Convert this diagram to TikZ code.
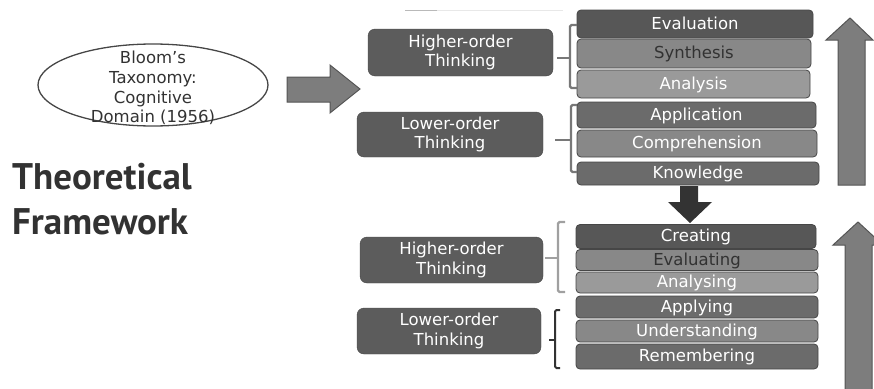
\documentclass[tikz,border=0pt]{standalone}
\usepackage{fontspec}
\setmainfont{DejaVu Sans}
\newfontfamily\titlefont{PT Sans}
\usepackage{xcolor}
\usepackage{tikz}
\usetikzlibrary{arrows.meta, positioning, shapes.geometric, calc}

\definecolor{tier_dark}{RGB}{87, 87, 87}
\definecolor{tier_mid}{RGB}{107, 107, 107}
\definecolor{tier_grey}{RGB}{136, 136, 136}
\definecolor{tier_light}{RGB}{154, 154, 154}
\definecolor{tier_edge}{RGB}{70, 70, 70}
\definecolor{tier_ink}{RGB}{50, 50, 50}
\definecolor{think_fill}{RGB}{92, 92, 92}
\definecolor{arrow_fill}{RGB}{125, 125, 125}
\definecolor{arrow_edge}{RGB}{85, 85, 85}
\definecolor{brace_mid}{RGB}{120, 120, 120}
\definecolor{brace_light}{RGB}{160, 160, 160}
\definecolor{brace_dark}{RGB}{50, 50, 50}

\tikzset{
  tier/.style={draw=tier_edge, line width=0.8pt, rounded corners=4pt, inner sep=0pt,
    text=white, text height=12pt, text depth=2pt, font=\fontsize{16.5}{19}\selectfont},
  thinkbox/.style={draw=tier_edge, fill=think_fill, rounded corners=7pt, inner sep=0pt,
    text=white, align=center, font=\fontsize{16.5}{19.5}\selectfont},
  brk/.style={line width=2.4pt, rounded corners=1.5pt},
  blockarrow/.style={fill=arrow_fill, draw=arrow_edge, line width=1pt, line join=miter}
}

\begin{document}
\begin{tikzpicture}[x=1pt, y=-1pt]
  \useasboundingbox (0,0) rectangle (874,388);

  % Bloom's taxonomy label
  \node[ellipse, draw=tier_edge, line width=1.3pt, minimum width=230pt, minimum height=82pt, inner sep=0pt] (bloom) at (153,85) {};
  \node[align=center, text=tier_ink, inner sep=0pt, font=\fontsize{16.5}{19.8}\selectfont] (bloom_txt) at (153,88) {Bloom's\\Taxonomy:\\Cognitive\\Domain (1956)};

  \node[anchor=north west, inner sep=0pt, align=left, text=tier_ink, font=\titlefont\bfseries\fontsize{37}{45}\selectfont] (title) at (12,163) {Theoretical\\Framework};

  % arrow to the pyramids
  \draw[blockarrow] (287,77) -- (330,77) -- (330,65) -- (360,89) -- (330,113) -- (330,102) -- (287,102) -- cycle;

  % faint rule at top
  \draw[gray!18, line width=1pt] (405,10) -- (563,10);
  \draw[gray!55, line width=1pt] (405,10) -- (437,10);

  % 1956 taxonomy
  \node[thinkbox, minimum width=185pt, minimum height=47pt] (higher_a) at (460.5,52.5) {Higher-order\\Thinking};
  \node[thinkbox, minimum width=186pt, minimum height=45pt] (lower_a) at (450,134.5) {Lower-order\\Thinking};

  \node[tier, fill=tier_dark, minimum width=236pt, minimum height=28pt] (evaluation) at (695,24) {Evaluation};
  \node[tier, fill=tier_grey, text=tier_ink, minimum width=234pt, minimum height=29pt] (synthesis) at (694,53.5) {Synthesis};
  \node[tier, fill=tier_light, minimum width=233pt, minimum height=28pt] (analysis) at (693.5,84) {Analysis};
  \node[tier, fill=tier_mid, minimum width=239pt, minimum height=26pt] (application) at (696.5,115) {Application};
  \node[tier, fill=tier_grey, minimum width=240pt, minimum height=27pt] (comprehension) at (697,143.5) {Comprehension};
  \node[tier, fill=tier_mid, minimum width=242pt, minimum height=23pt] (knowledge) at (698,173.5) {Knowledge};

  \draw[brk, brace_mid] (577,25) -- (570,25) -- (570,88) -- (577,88);
  \draw[brk, brace_mid] (570,58) -- (557,58);
  \draw[brk, brace_mid] (577,105) -- (571,105) -- (571,172) -- (577,172);
  \draw[brk, brace_mid] (571,140) -- (555,140);

  \draw[blockarrow] (850,18) -- (873,40) -- (865,40) -- (865,185) -- (838,185) -- (838,40) -- (826,40) -- cycle;

  % revised taxonomy
  \fill[black!80] (680,186) -- (698,186) -- (698,202) -- (712,202) -- (690,223) -- (668,202) -- (680,202) -- cycle;

  \node[thinkbox, minimum width=183pt, minimum height=46pt] (higher_b) at (451.5,260) {Higher-order\\Thinking};
  \node[thinkbox, minimum width=184pt, minimum height=46pt] (lower_b) at (449,331) {Lower-order\\Thinking};

  \node[tier, fill=tier_dark, minimum width=240pt, minimum height=24pt] (creating) at (696,236.5) {Creating};
  \node[tier, fill=tier_grey, text=tier_ink, minimum width=242pt, minimum height=21pt] (evaluating) at (697,260) {Evaluating};
  \node[tier, fill=tier_light, minimum width=242pt, minimum height=21pt] (analysing) at (697,282.5) {Analysing};
  \node[tier, fill=tier_mid, minimum width=242pt, minimum height=22pt] (applying) at (697,307) {Applying};
  \node[tier, fill=tier_grey, minimum width=242pt, minimum height=22pt] (understanding) at (697,331) {Understanding};
  \node[tier, fill=tier_mid, minimum width=242pt, minimum height=25pt] (remembering) at (697,356.5) {Remembering};

  \draw[brk, brace_light] (565,222) -- (558,222) -- (558,292) -- (565,292);
  \draw[brk, brace_light] (558,258) -- (545,258);
  \draw[brk, brace_dark, line width=2pt] (560,310) -- (555,310) -- (555,368) -- (560,368);
  \draw[brk, brace_dark, line width=2pt] (555,340) -- (549,340);

  \draw[blockarrow] (858,222) -- (883,245) -- (872,245) -- (872,392) -- (845,392) -- (845,245) -- (833,245) -- cycle;
\end{tikzpicture}
\end{document}
